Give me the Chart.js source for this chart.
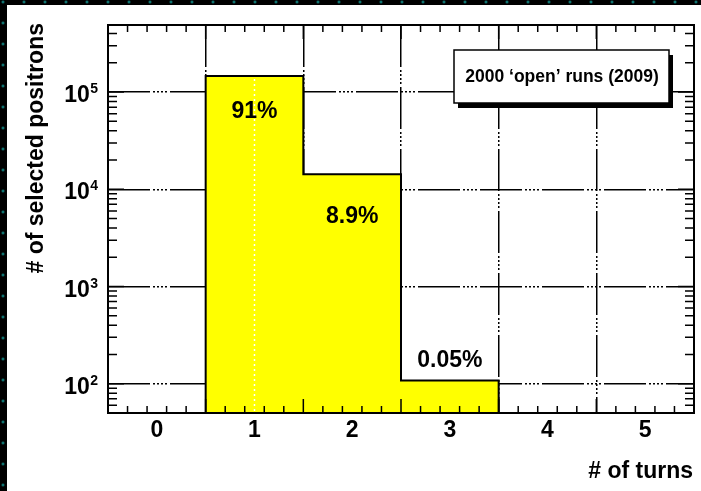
<!DOCTYPE html>
<html><head><meta charset="utf-8">
<script src="https://cdn.jsdelivr.net/npm/chart.js@4.4.1/dist/chart.umd.min.js"></script>
<style>
html,body{margin:0;padding:0;}
body{width:701px;height:491px;background-color:#000;background-image:radial-gradient(circle, #17a5a0 0.9px, rgba(0,0,0,0) 1.5px);background-size:21px 21px;background-position:-7.5px -8.5px;overflow:hidden;position:relative;}
#wrap{position:absolute;left:7px;top:5px;width:694px;height:486px;background:#fff;}
canvas{display:block;}
</style></head>
<body><div id="wrap"><canvas id="c" width="694" height="486"></canvas></div>
<script>
// ---- data ----
const turnLabels = ['0', '1', '2', '3', '4', '5'];
const positronCounts = [null, 146000, 14300, 108, null, null];
const shareLabels = ['', '91%', '8.9%', '0.05%', '', ''];
const shareLabelAnchor = [null, 65000, 5500, 181, null, null];
const yDecades = [100, 1000, 10000, 100000];
const yMin = 50, yMax = 490000;
const legendText = '2000 \u2018open\u2019 runs (2009)';
const xTitle = '# of turns';
const yTitle = '# of selected positrons';

const FONT = "'Liberation Sans', Arial, Helvetica, sans-serif";
const DASH = [42, 3, 2, 2, 2, 2, 2, 2, 2, 3];

const rootPlugin = {
  id: 'rootStyle',
  afterDatasetsDraw(chart) {
    const {ctx, chartArea: a, scales: {x, y}} = chart;
    ctx.save();
    // white dotted line inside first filled bin
    const cx1 = x.getPixelForValue(1);
    ctx.strokeStyle = '#fff'; ctx.lineWidth = 1.5; ctx.setLineDash([2, 3]);
    ctx.beginPath(); ctx.moveTo(cx1, y.getPixelForValue(positronCounts[1]) + 3); ctx.lineTo(cx1, a.bottom); ctx.stroke();
    ctx.setLineDash([]);
    // histogram step outline from bar elements
    const meta = chart.getDatasetMeta(0);
    ctx.strokeStyle = '#000'; ctx.lineWidth = 2;
    ctx.beginPath();
    let started = false, prevY = null;
    meta.data.forEach((bar, i) => {
      if (positronCounts[i] == null) {
        if (started) { ctx.lineTo(bar.x - bar.width / 2, a.bottom); started = false; }
        return;
      }
      const l = bar.x - bar.width / 2, r = bar.x + bar.width / 2;
      if (!started) { ctx.moveTo(l, a.bottom); started = true; }
      ctx.lineTo(l, bar.y);
      ctx.lineTo(r, bar.y);
    });
    ctx.stroke();
    // x ticks (inward), 5 per bin
    ctx.lineWidth = 1.5;
    const step = x.getPixelForValue(1) - x.getPixelForValue(0);
    const left = x.getPixelForValue(0) - step / 2;
    ctx.beginPath();
    for (let i = 0; i <= turnLabels.length * 5; i++) {
      const px = left + i * step / 5;
      const len = (i % 5 === 0) ? 14 : 7;
      ctx.moveTo(px, a.bottom); ctx.lineTo(px, a.bottom - len);
      ctx.moveTo(px, a.top); ctx.lineTo(px, a.top + len);
    }
    // y ticks (log minor)
    for (let e = Math.floor(Math.log10(yMin)); e <= Math.ceil(Math.log10(yMax)); e++) {
      for (let m = 1; m <= 9; m++) {
        const v = m * Math.pow(10, e);
        if (v < yMin || v > yMax) continue;
        const py = y.getPixelForValue(v);
        const len = m === 1 ? 16 : 9;
        ctx.moveTo(a.left, py); ctx.lineTo(a.left + len, py);
        ctx.moveTo(a.right, py); ctx.lineTo(a.right - len, py);
      }
    }
    ctx.stroke();
    // frame
    ctx.lineWidth = 2;
    ctx.strokeRect(a.left, a.top, a.right - a.left, a.bottom - a.top);
    // bin share labels
    ctx.fillStyle = '#000';
    ctx.font = 'bold 23px ' + FONT;
    ctx.textAlign = 'center'; ctx.textBaseline = 'alphabetic';
    shareLabels.forEach((t, i) => {
      if (!t) return;
      ctx.fillText(t, x.getPixelForValue(i), y.getPixelForValue(shareLabelAnchor[i]) + 8);
    });
    // x tick labels
    chart.data.labels.forEach((t, i) => {
      ctx.fillText(t, x.getPixelForValue(i), a.bottom + 24);
    });
    // y tick labels 10^n
    yDecades.forEach(v => {
      const py = y.getPixelForValue(v);
      const ex = String(Math.round(Math.log10(v)));
      ctx.textAlign = 'right';
      ctx.font = 'bold 14px ' + FONT;
      const sw = ctx.measureText(ex).width;
      ctx.fillText(ex, a.left - 10, py + 1);
      ctx.font = 'bold 23px ' + FONT;
      ctx.fillText('10', a.left - 10 - sw - 0.5, py + 10);
    });
    // axis titles
    ctx.font = 'bold 23px ' + FONT;
    ctx.textAlign = 'right';
    ctx.fillText(xTitle, a.right - 1, 473);
    ctx.save();
    ctx.translate(36, a.top - 2);
    ctx.rotate(-Math.PI / 2);
    ctx.textAlign = 'right';
    ctx.fillText(yTitle, 0, 0);
    ctx.restore();
    // legend box with shadow
    const bx = 447, by = 45, bw = 215, bh = 53;
    ctx.fillStyle = '#000';
    ctx.fillRect(bx + 4, by + 5, bw, bh);
    ctx.fillStyle = '#fff';
    ctx.fillRect(bx, by, bw, bh);
    ctx.lineWidth = 1.5; ctx.strokeStyle = '#000';
    ctx.strokeRect(bx, by, bw, bh);
    ctx.fillStyle = '#000';
    ctx.font = 'bold 17.5px ' + FONT;
    ctx.textAlign = 'center'; ctx.textBaseline = 'middle';
    ctx.fillText(legendText, bx + bw / 2 + 0.5, by + bh / 2 + 1);
    ctx.restore();
  }
};

new Chart(document.getElementById('c'), {
  type: 'bar',
  data: {
    labels: turnLabels,
    datasets: [{
      data: positronCounts,
      backgroundColor: '#ffff00',
      borderWidth: 0,
      barPercentage: 1,
      categoryPercentage: 1
    }]
  },
  options: {
    responsive: false,
    animation: false,
    events: [],
    layout: {padding: {top: 20, right: 7, left: 0, bottom: 0}},
    plugins: {legend: {display: false}, tooltip: {enabled: false}},
    scales: {
      x: {
        offset: true,
        grid: {offset: true, color: '#000', lineWidth: 1.5, drawTicks: false},
        border: {display: false, dash: DASH},
        ticks: {display: false},
        afterFit(s) { s.height = 78; }
      },
      y: {
        type: 'logarithmic',
        min: yMin, max: yMax,
        afterBuildTicks(s) { s.ticks = yDecades.map(v => ({value: v, major: true})); },
        grid: {color: '#000', lineWidth: 1.5, drawTicks: false},
        border: {display: false, dash: DASH},
        ticks: {display: false},
        afterFit(s) { s.width = 101; }
      }
    }
  },
  plugins: [rootPlugin]
});
</script>
</body></html>
